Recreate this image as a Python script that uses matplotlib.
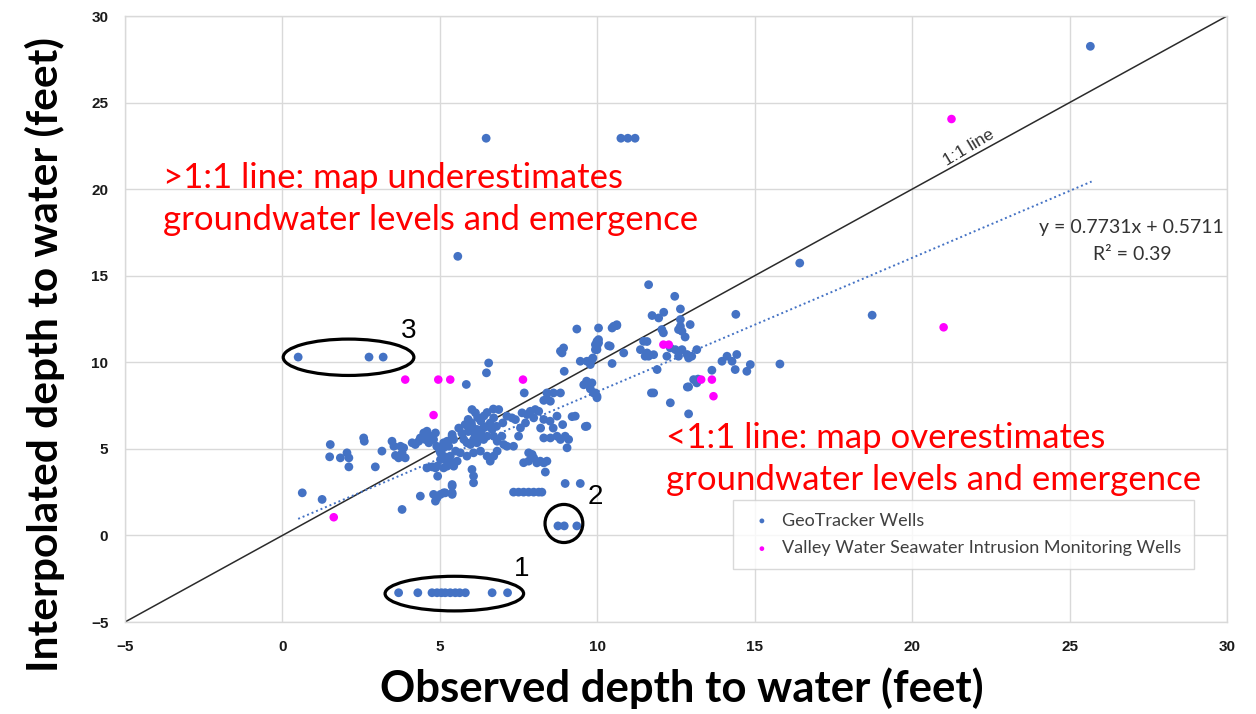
import matplotlib
matplotlib.use("Agg")
import matplotlib.pyplot as plt
from matplotlib.patches import Ellipse
import numpy as np

# ---------------- data ----------------
geo_x = [25.66, 6.47, 10.75, 10.97, 11.2, 5.57, 16.43, 18.73, 15.8, 14.4,
         0.5, 2.75, 3.2,
         8.75, 8.95, 9.35,
         3.69, 4.30, 4.75, 4.91, 5.05, 5.17, 5.33, 5.49, 5.63, 5.81, 6.66, 7.15,
         0.63, 1.26, 1.52, 1.5, 1.84, 2.05, 2.11, 2.11, 2.58, 2.6, 2.95, 3.16, 3.48, 3.54, 3.59, 3.69, 3.8, 3.85, 3.9, 3.75,
         4.12, 4.22, 4.33, 4.49, 4.59, 4.7, 4.8, 4.54, 4.38, 4.65, 4.86,
         4.9, 5.0, 5.12, 5.22, 5.02, 4.91, 5.12, 5.33, 5.39, 5.44, 5.5, 5.28, 5.39, 5.23, 5.12,
         4.59, 4.75, 4.86, 4.93, 4.38, 4.8, 4.91, 5.02, 4.86, 5.12, 5.39, 5.39, 3.8,
         6.55, 6.48, 5.84, 7.68, 8.83, 8.93, 8.88, 8.95, 9.46, 9.67, 9.83, 9.94, 10.04, 9.99,
         9.57, 9.73, 9.88, 9.99, 9.67, 9.3, 8.72, 8.4, 8.61, 8.83, 8.51, 8.3, 8.4,
         6.02, 6.13, 6.87, 6.71, 6.6,
         7.13, 7.29, 7.4, 7.61, 7.77, 7.87, 8.03, 8.14, 7.98, 7.72, 7.56,
         6.02, 6.18, 6.39,
         5.39, 5.44, 5.23, 5.12, 5.02,
         5.76, 5.86, 5.97, 6.07, 6.18, 6.29, 6.39, 6.5, 6.66, 6.71, 6.82, 6.97, 7.03, 7.13, 7.34,
         7.5, 8.3, 8.51, 8.72, 8.83, 8.98, 9.09, 9.04,
         5.65, 5.86, 6.07, 6.29, 6.5, 6.6, 6.71, 6.82,
         5.55, 5.23, 5.33,
         7.66, 7.82, 7.98, 8.08, 8.19, 8.3, 8.4, 7.82, 7.93, 8.35,
         6.02, 6.07, 6.07, 5.39, 5.39, 5.17, 8.98, 9.46,
         7.34, 7.5, 7.66, 7.82, 7.98, 8.14, 8.24,
         11.63, 12.46, 12.64, 11.74, 11.95, 12.11, 12.64, 12.64, 12.69, 12.79, 12.95, 12.58, 12.05, 12.1, 11.58,
         10.04, 10.47, 10.62, 10.04, 9.99, 9.94, 10.41, 9.86, 9.78, 10.47, 10.84, 11.37, 11.52, 11.63,
         12.21, 12.32, 12.48, 12.58, 12.69, 12.85, 13.0, 13.16, 12.9, 11.9,
         13.96, 14.12, 14.28, 14.43, 14.38, 14.75, 14.86, 13.64,
         13.06, 13.16, 12.9, 11.79, 12.32, 12.9, 9.83, 9.94, 9.99,
         9.35, 10.52, 10.62, 9.99, 10.36, 11.47, 11.58, 11.79,
         8.3, 8.5, 8.6, 8.2, 8.9,
         9.66, 9.78, 9.2, 9.62, 11.72, 12.86, 13.2,
         5.6, 5.8, 5.9, 6.0, 6.2, 6.3, 6.4, 6.5, 6.7, 5.7, 5.9, 6.1, 6.3, 6.5, 6.8, 7.0]
geo_y = [28.25, 22.94, 22.94, 22.94, 22.94, 16.12, 15.73, 12.72, 9.9, 12.77,
         10.3, 10.3, 10.3,
         0.55, 0.55, 0.55,
         -3.31, -3.31, -3.31, -3.31, -3.31, -3.31, -3.31, -3.31, -3.31, -3.31, -3.31, -3.31,
         2.46, 2.08, 5.25, 4.54, 4.48, 4.77, 4.48, 3.96, 5.63, 5.44, 3.96, 4.87, 5.44, 5.15, 4.62, 4.48, 4.77, 5.06, 4.48, 5.15,
         5.35, 5.25, 5.44, 5.92, 6.02, 5.73, 5.54, 5.54, 5.63, 5.35, 5.92,
         5.15, 4.87, 4.58, 4.29, 4.38, 4.0, 3.9, 4.58, 4.19, 4.0, 4.87, 5.15, 5.73, 5.44, 5.35,
         3.9, 3.96, 3.9, 3.42, 2.27, 2.37, 2.17, 2.37, 1.98, 2.46, 2.85, 2.37, 1.5,
         9.96, 9.39, 8.72, 8.23, 10.64, 10.83, 10.54, 9.48, 10.06, 10.06, 10.16, 11.02, 11.12, 10.73,
         8.7, 8.81, 8.23, 8.04, 6.31, 6.89, 6.89, 8.23, 8.23, 8.23, 7.75, 7.8, 7.9,
         7.27, 7.08, 7.27, 6.79, 6.5,
         6.89, 6.79, 6.69, 7.08, 6.98, 7.17, 7.27, 7.17, 6.79, 6.5, 6.21,
         6.31, 6.12, 6.21,
         5.83, 5.54, 5.35, 5.06, 4.77,
         5.54, 5.35, 5.25, 5.54, 5.35, 5.73, 5.54, 5.73, 6.12, 5.73, 5.44, 5.73, 5.25, 5.15, 5.15,
         5.73, 5.63, 5.63, 5.73, 5.54, 5.73, 5.54, 5.06,
         4.77, 4.58, 4.77, 4.87, 4.58, 4.29, 4.58, 4.87,
         4.29, 4.0, 4.2,
         4.2, 4.29, 4.48, 4.19, 4.29, 4.19, 4.29, 4.77, 4.68, 3.66,
         3.81, 3.43, 3.04, 2.94, 2.46, 2.46, 3.0, 3.0,
         2.5, 2.5, 2.5, 2.5, 2.5, 2.5, 2.5,
         14.48, 13.81, 13.08, 12.7, 12.56, 12.89, 12.47, 12.08, 11.79, 11.46, 12.18, 11.89, 11.89, 11.7, 11.2,
         11.98, 11.98, 12.12, 11.31, 10.93, 10.73, 10.93, 10.25, 9.87, 9.93, 10.54, 10.73, 10.35, 10.35,
         10.35, 10.83, 10.73, 10.35, 10.73, 10.45, 10.35, 10.73, 10.25, 9.58,
         10.06, 10.35, 10.06, 10.45, 9.58, 9.48, 9.87, 9.54,
         9.0, 8.81, 8.58, 8.23, 7.66, 7.02, 8.81, 8.23, 7.95,
         11.92, 12.08, 12.17, 11.21, 10.96, 11.21, 10.54, 10.44,
         6.7, 6.6, 6.2, 6.2, 6.4,
         8.91, 8.46, 6.86, 6.29, 8.23, 8.57, 9.03,
         6.2, 6.4, 6.7, 6.5, 6.8, 6.6, 6.9, 7.1, 7.3, 5.9, 6.0, 5.9, 6.0, 6.3, 6.3, 6.5]

vw_x = [1.63, 3.9, 4.95, 5.33, 4.8, 7.64, 12.1, 12.27, 13.3, 13.64, 13.69, 21.0, 21.25]
vw_y = [1.05, 9.0, 9.0, 9.0, 6.95, 9.0, 11.02, 11.02, 9.0, 9.0, 8.04, 12.02, 24.05]

slope = 0.7731
intercept = 0.5711
trend_range = [0.5, 25.7]
ticks = [-5, 0, 5, 10, 15, 20, 25, 30]

# ---------------- figure ----------------
W, H = 1256, 714
fig = plt.figure(figsize=(W / 100, H / 100), dpi=100)
ax = fig.add_axes([125 / W, 1 - 622 / H, 1102 / W, 606 / H])
ax.set_xlim(-5, 30)
ax.set_ylim(-5, 30)
ax.set_xticks(ticks)
ax.set_yticks(ticks)
ax.grid(True, color="#D9D9D9", linewidth=1.0)
ax.set_axisbelow(True)
for s in ax.spines.values():
    s.set_color("#D9D9D9")
    s.set_linewidth(1.0)
ax.tick_params(length=0, labelsize=11, labelcolor="#1a1a1a")
ax.tick_params(axis="x", pad=13)
ax.tick_params(axis="y", pad=12)
for lab in ax.get_xticklabels() + ax.get_yticklabels():
    lab.set_fontweight("bold")
    lab.set_family("Liberation Sans")

# 1:1 line
ax.plot([-5, 30], [-5, 30], color="#2b2b2b", linewidth=1.1, zorder=2)
# trend line
tx = np.array(trend_range)
ax.plot(tx, slope * tx + intercept, color="#4472C4", linewidth=1.4,
        linestyle=(0, (1, 1.5)), zorder=2)

ax.scatter(geo_x, geo_y, s=40, color="#4472C4", edgecolors="none", zorder=3,
           label="GeoTracker Wells")
ax.scatter(vw_x, vw_y, s=38, color="#FF00FF", edgecolors="none", zorder=3,
           label="Valley Water Seawater Intrusion Monitoring Wells")

# ellipses and numbers
for (cx, cy, w, h, num, nx, ny) in [(2.1, 10.29, 4.15, 2.1, "3", 4.0, 11.8),
                                    (8.94, 0.69, 1.2, 2.2, "2", 9.95, 2.2),
                                    (5.46, -3.36, 4.4, 2.0, "1", 7.6, -1.95)]:
    ax.add_patch(Ellipse((cx, cy), w, h, fill=False, edgecolor="black",
                         linewidth=2.3, zorder=4))
    ax.text(nx, ny, num, fontsize=20, family="Liberation Sans",
            ha="center", va="center", color="black")

# annotations
ax.text(21.8, 22.4, "1:1 line", fontsize=12.5, family="Liberation Sans",
        rotation=31, ha="center", va="center", color="#333333")
ax.text(29.9, 17.8, "y = 0.7731x + 0.5711", fontsize=14, family="Lato",
        ha="right", va="center", color="#333333")
ax.text(27.0, 16.2, "R² = 0.39", fontsize=14, family="Lato",
        ha="center", va="center", color="#333333")

red_kw = dict(fontsize=25, family="Lato", color="#FF0000", va="top", ha="left",
              linespacing=1.4)
fig.text(163 / W, 1 - 162 / H,
         ">1:1 line: map underestimates\ngroundwater levels and emergence", **red_kw)
fig.text(666 / W, 1 - 422 / H,
         "<1:1 line: map overestimates\ngroundwater levels and emergence", **red_kw)

leg = ax.legend(loc="upper left", bbox_to_anchor=((733 - 125) / 1102, 1 - (500 - 16) / 606),
                frameon=True, fancybox=False, edgecolor="#D0D0D0", fontsize=13,
                markerscale=0.55, handletextpad=0.2, labelspacing=0.65,
                borderpad=0.7, handlelength=1.8, borderaxespad=0)
leg.get_frame().set_linewidth(1.0)
for t in leg.get_texts():
    t.set_family("Lato")
    t.set_color("#404040")

# axis titles
fig.text(682 / W, 1 - 688 / H, "Observed depth to water (feet)", fontsize=31.5,
         fontweight="bold", family="Lato", ha="center", va="center")
fig.text(45 / W, 1 - 355 / H, "Interpolated depth to water (feet)", fontsize=30.5,
         fontweight="bold", family="Lato", ha="center", va="center", rotation=90)

fig.savefig("out.png", dpi=100)
